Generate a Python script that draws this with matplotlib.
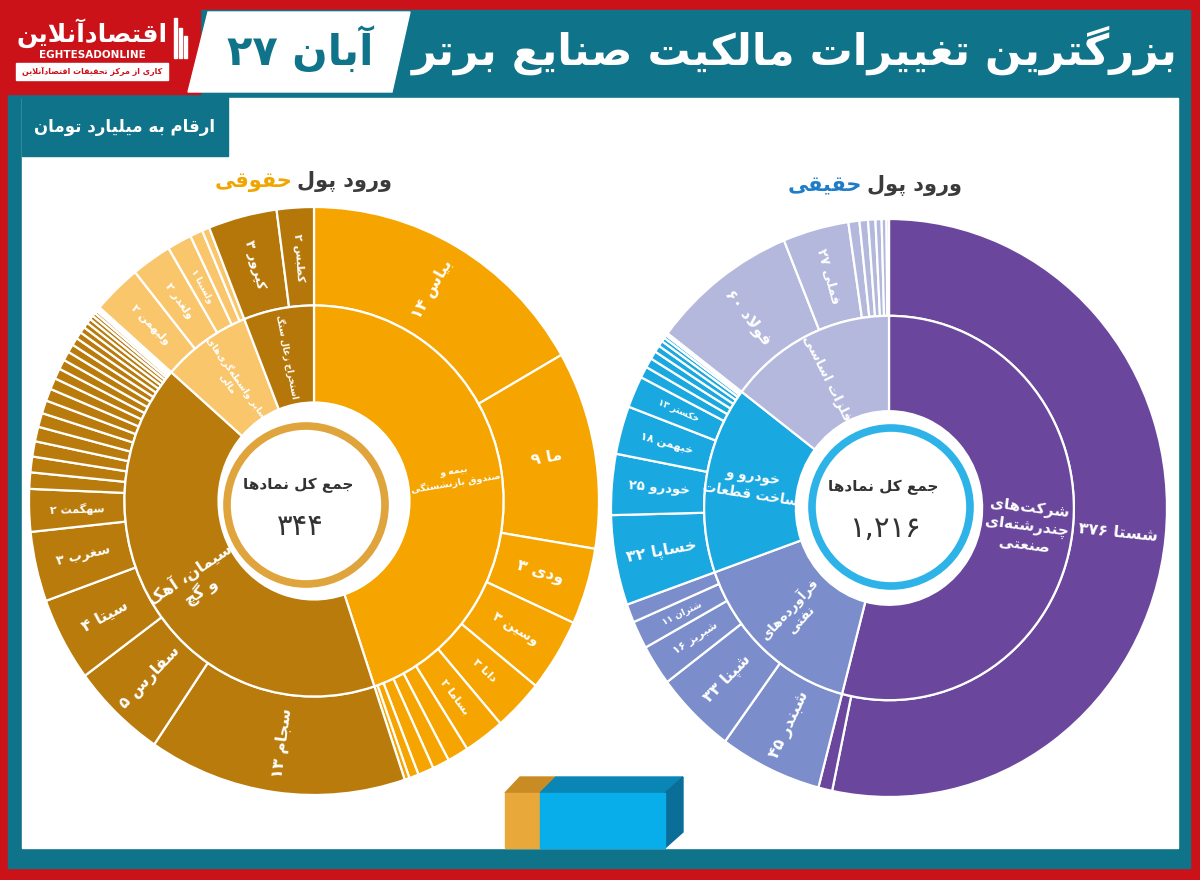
import re
import numpy as np
import matplotlib
matplotlib.use('Agg')
import matplotlib.pyplot as plt
from matplotlib.patches import Rectangle, Polygon, Circle

plt.rcParams['font.family'] = ['DejaVu Sans']

# ---------------- data ----------------
# left sunburst: ورود پول حقوقی
left_total = '۳۴۴'
left_inner_names = ['بیمه و\nصندوق بازنشستگی', 'سیمان، آهک\nو گچ',
                    'سایر واسطه‌گری‌های\nمالی', 'استخراج زغال سنگ']
left_inner_colors = ['#F6A400', '#B97B0C', '#F9C66C', '#B57709']
left_inner_fs = [6.8, 11.5, 6.8, 6.3]
left_outer_names = (['بیاس', 'ما', 'ودی', 'وسین', 'دانا', 'بساما', '', '', '', '', '']
                    + ['سجام', 'سفارس', 'سیتا', 'سغرب', 'سهگمت'] + [''] * 22
                    + ['ولبهمن', 'ولغدر', 'ولسینا', '', '']
                    + ['کپرور', 'کطبس'])
left_outer_shown = (['۱۴', '۹', '۳', '۳', '۳', '۲', '', '', '', '', '']
                    + ['۱۳', '۵', '۴', '۳', '۲'] + [''] * 22
                    + ['۲', '۲', '۱', '', '']
                    + ['۳', '۲'])
left_outer_sizes = ([13.95, 9.07, 3.5, 3.35, 2.37, 1.93, 1.0, 0.8, 0.75, 0.45, 0.23]
                    + [12.2, 4.5, 3.85, 3.2, 1.95,
                       0.75, 0.72, 0.7, 0.67, 0.64, 0.6, 0.56, 0.52, 0.48, 0.45, 0.42,
                       0.38, 0.35, 0.32, 0.28, 0.25, 0.22, 0.19, 0.16, 0.13, 0.1, 0.1]
                    + [2.3, 1.9, 1.16, 0.6, 0.35]
                    + [3.25, 1.75])
left_outer_parent = [0] * 11 + [1] * 27 + [2] * 5 + [3] * 2

# right sunburst: ورود پول حقیقی
right_total = '۱,۲۱۶'
right_inner_names = ['شرکت‌های\nچندرشته‌ای\nصنعتی', 'فرآورده‌های\nنفتی',
                     'خودرو و\nساخت قطعات', 'فلزات اساسی']
right_inner_colors = ['#6A479C', '#7B8DCB', '#19A8E0', '#B3B8DC']
right_inner_fs = [11, 9.5, 9.8, 9.5]
right_outer_names = (['شستا', '']
                     + ['شبندر', 'شپنا', 'شبریز', 'شتران', '']
                     + ['خساپا', 'خودرو', 'خبهمن', 'خکستر'] + [''] * 9
                     + ['فولاد', 'فملی'] + [''] * 6)
right_outer_shown = (['۳۷۶', '']
                     + ['۴۵', '۳۳', '۱۶', '۱۱', '']
                     + ['۳۲', '۲۵', '۱۸', '۱۳'] + [''] * 9
                     + ['۶۰', '۲۷'] + [''] * 6)
right_outer_sizes = ([376, 5.7]
                     + [42, 33, 16, 11, 7.3]
                     + [35.5, 24, 19, 12.5, 4.5, 3.8, 3.2, 2.7, 2.2, 1.6, 1.2, 0.6, 0.4]
                     + [60, 27, 4.5, 3.5, 3, 2.5, 2, 1])
right_outer_parent = [0] * 2 + [1] * 5 + [2] * 13 + [3] * 8

# ---------------- persian shaping ----------------
FORMS = {
    'ا': ('\ufe8d', '\ufe8e', None, None), 'آ': ('\ufe81', '\ufe82', None, None),
    'ب': ('\ufe8f', '\ufe90', '\ufe91', '\ufe92'), 'پ': ('\ufb56', '\ufb57', '\ufb58', '\ufb59'),
    'ت': ('\ufe95', '\ufe96', '\ufe97', '\ufe98'), 'ث': ('\ufe99', '\ufe9a', '\ufe9b', '\ufe9c'),
    'ج': ('\ufe9d', '\ufe9e', '\ufe9f', '\ufea0'), 'چ': ('\ufb7a', '\ufb7b', '\ufb7c', '\ufb7d'),
    'ح': ('\ufea1', '\ufea2', '\ufea3', '\ufea4'), 'خ': ('\ufea5', '\ufea6', '\ufea7', '\ufea8'),
    'د': ('\ufea9', '\ufeaa', None, None), 'ذ': ('\ufeab', '\ufeac', None, None),
    'ر': ('\ufead', '\ufeae', None, None), 'ز': ('\ufeaf', '\ufeb0', None, None),
    'ژ': ('\ufb8a', '\ufb8b', None, None),
    'س': ('\ufeb1', '\ufeb2', '\ufeb3', '\ufeb4'), 'ش': ('\ufeb5', '\ufeb6', '\ufeb7', '\ufeb8'),
    'ص': ('\ufeb9', '\ufeba', '\ufebb', '\ufebc'), 'ض': ('\ufebd', '\ufebe', '\ufebf', '\ufec0'),
    'ط': ('\ufec1', '\ufec2', '\ufec3', '\ufec4'), 'ظ': ('\ufec5', '\ufec6', '\ufec7', '\ufec8'),
    'ع': ('\ufec9', '\ufeca', '\ufecb', '\ufecc'), 'غ': ('\ufecd', '\ufece', '\ufecf', '\ufed0'),
    'ف': ('\ufed1', '\ufed2', '\ufed3', '\ufed4'), 'ق': ('\ufed5', '\ufed6', '\ufed7', '\ufed8'),
    'ک': ('\ufb8e', '\ufb8f', '\ufb90', '\ufb91'), 'گ': ('\ufb92', '\ufb93', '\ufb94', '\ufb95'),
    'ل': ('\ufedd', '\ufede', '\ufedf', '\ufee0'), 'م': ('\ufee1', '\ufee2', '\ufee3', '\ufee4'),
    'ن': ('\ufee5', '\ufee6', '\ufee7', '\ufee8'), 'ه': ('\ufee9', '\ufeea', '\ufeeb', '\ufeec'),
    'و': ('\ufeed', '\ufeee', None, None), 'ی': ('\ufbfc', '\ufbfd', '\ufbfe', '\ufbff'),
}


def _line(text):
    chars = list(text)
    n = len(chars)
    joins = lambda c: c in FORMS and FORMS[c][2] is not None
    out = []
    i = 0
    while i < n:
        c = chars[i]
        if c == '\u200c':
            i += 1
            continue
        if c not in FORMS:
            out.append(c)
            i += 1
            continue
        p = i > 0 and joins(chars[i - 1])
        nxt = chars[i + 1] if i + 1 < n else ''
        if c == 'ل' and nxt in ('ا', 'آ'):
            lig = ('\ufefb', '\ufefc') if nxt == 'ا' else ('\ufef5', '\ufef6')
            out.append(lig[1] if p else lig[0])
            i += 2
            continue
        q = joins(c) and nxt in FORMS
        f = FORMS[c]
        out.append(f[3] if p and q else f[1] if p else f[2] if q else f[0])
        i += 1
    s = ''.join(out)[::-1]
    return re.sub(r'[0-9۰-۹][0-9۰-۹,.]*', lambda m: m.group(0)[::-1], s)


def fa(text):
    return '\n'.join(_line(t) for t in text.split('\n'))


# ---------------- figure ----------------
RED = '#CB1219'
TEAL = '#0F7389'
fig = plt.figure(figsize=(12, 8.8), dpi=100)
fig.patch.set_facecolor(RED)
bg = fig.add_axes([0, 0, 1, 1])
bg.set_xlim(0, 1200)
bg.set_ylim(880, 0)
bg.axis('off')

bg.add_patch(Rectangle((8, 10), 1182, 858, color=TEAL, zorder=0))
bg.add_patch(Rectangle((0, 0), 200, 94, color=RED, zorder=1))
bg.add_patch(Polygon([(208, 12), (410, 12), (392, 92), (188, 92)], color='white', zorder=1))
bg.add_patch(Rectangle((22, 98), 1156, 750, color='white', zorder=1))
bg.add_patch(Rectangle((22, 96), 206, 60, color=TEAL, zorder=2))

bg.text(300, 50, fa('آبان ۲۷'), ha='center', va='center', fontsize=30,
        fontweight='bold', color=TEAL, zorder=3)
bg.text(795, 50, fa('بزرگترین تغییرات مالکیت صنایع برتر'), ha='center', va='center',
        fontsize=31, fontweight='bold', color='white', zorder=3)
bg.text(125, 127, fa('ارقام به میلیارد تومان'), ha='center', va='center',
        fontsize=12, fontweight='bold', color='white', zorder=3)

# logo
bg.text(92, 33, fa('اقتصادآنلاین'), ha='center', va='center', fontsize=18,
        fontweight='bold', color='white', zorder=3)
bg.text(92, 55, 'EGHTESADONLINE', ha='center', va='center', fontsize=7.5,
        fontweight='bold', color='white', zorder=3)
bg.add_patch(Rectangle((16, 63), 152, 17, color='white', zorder=3))
bg.text(92, 71.5, fa('کاری از مرکز تحقیقات اقتصادآنلاین'), ha='center', va='center',
        fontsize=5.8, fontweight='bold', color=RED, zorder=4)
for k, h in enumerate([40, 30, 22]):
    bg.add_patch(Rectangle((174 + k * 5, 58 - h), 2.5, h, color='white', zorder=3))

# chart headings
renderer = fig.canvas.get_renderer()


def heading(x_right, y, dark, colored, ccol):
    t = bg.text(x_right, y, fa(dark), ha='right', va='center', fontsize=15,
                fontweight='bold', color='#3B3B3B', zorder=3)
    bb = t.get_window_extent(renderer=renderer)
    x0 = bg.transData.inverted().transform((bb.x0, bb.y0))[0]
    bg.text(x0 - 5, y, fa(colored), ha='right', va='center', fontsize=15,
            fontweight='bold', color=ccol, zorder=3)


heading(392, 182, 'ورود پول', 'حقوقی', '#F0A500')
heading(962, 185, 'ورود پول', 'حقیقی', '#1F7CC6')


# ---------------- sunbursts ----------------
def sunburst(rect, inner_names, inner_colors, inner_fs, outer_names, outer_shown,
             outer_sizes, outer_parent):
    ax = fig.add_axes(rect)
    sizes = np.array(outer_sizes, dtype=float)
    parent = np.array(outer_parent)
    inner_sizes = np.bincount(parent, weights=sizes)
    wp = dict(edgecolor='white', linewidth=1.6)
    outer_w, _ = ax.pie(sizes, radius=1.0, startangle=90, counterclock=False,
                        colors=[inner_colors[p] for p in parent],
                        wedgeprops=dict(width=0.335, **wp))
    inner_w, _ = ax.pie(inner_sizes, radius=0.665, startangle=90, counterclock=False,
                        colors=inner_colors, wedgeprops=dict(width=0.33, **wp))
    ax.set_aspect('auto')
    ax.set_xlim(-1, 1)
    ax.set_ylim(-1, 1)
    ax.axis('off')

    def put(w, r, txt, fs):
        mid = (w.theta1 + w.theta2) / 2
        m = (mid + 180) % 360 - 180
        rot = m - 180 if m > 90 else m + 180 if m < -90 else m
        a = np.deg2rad(mid)
        ax.text(r * np.cos(a), r * np.sin(a), fa(txt), ha='center', va='center',
                rotation=rot, rotation_mode='anchor', fontsize=fs, fontweight='bold',
                color='white', multialignment='center', linespacing=1.25)

    for w, name, shown in zip(outer_w, outer_names, outer_shown):
        if not name:
            continue
        span = w.theta2 - w.theta1
        fs = 11.5 if span >= 15 else 9.5 if span >= 11 else 8 if span >= 7.5 else 6.5
        put(w, 0.83, name + ' ' + shown, fs)
    for w, name, fs in zip(inner_w, inner_names, inner_fs):
        put(w, 0.5, name, fs)
    return ax


sunburst([29 / 1200, 1 - 795 / 880, 570 / 1200, 588 / 880],
         left_inner_names, left_inner_colors, left_inner_fs,
         left_outer_names, left_outer_shown, left_outer_sizes, left_outer_parent)
sunburst([611 / 1200, 1 - 797 / 880, 556 / 1200, 578 / 880],
         right_inner_names, right_inner_colors, right_inner_fs,
         right_outer_names, right_outer_shown, right_outer_sizes, right_outer_parent)

# centre circles
top = fig.add_axes([0, 0, 1, 1], facecolor='none')
top.set_xlim(0, 1200)
top.set_ylim(880, 0)
top.axis('off')
for cx, cy, col, total in [(306, 505, '#E0A43C', left_total), (891, 507, '#2DB3E8', right_total)]:
    top.add_patch(Circle((cx, cy), 79, facecolor='white', edgecolor=col, linewidth=5.5))
    top.text(cx - 8, cy - 20, fa('جمع کل نمادها'), ha='center', va='center',
             fontsize=11, fontweight='bold', color='#333333')
    top.text(cx - 6, cy + 22, fa(total), ha='center', va='center', fontsize=21,
             color='#333333')

# bottom 3d box
top.add_patch(Polygon([(505, 793), (540, 793), (556, 777), (520, 777)], color='#C98B24'))
top.add_patch(Polygon([(540, 793), (665, 793), (683, 777), (556, 777)], color='#0A86B6'))
top.add_patch(Polygon([(665, 793), (683, 777), (683, 832), (665, 848)], color='#0A6E98'))
top.add_patch(Rectangle((505, 793), 35, 55, color='#E8A93A'))
top.add_patch(Rectangle((540, 793), 125, 55, color='#08AEEA'))

fig.savefig('out.png', dpi=100)
